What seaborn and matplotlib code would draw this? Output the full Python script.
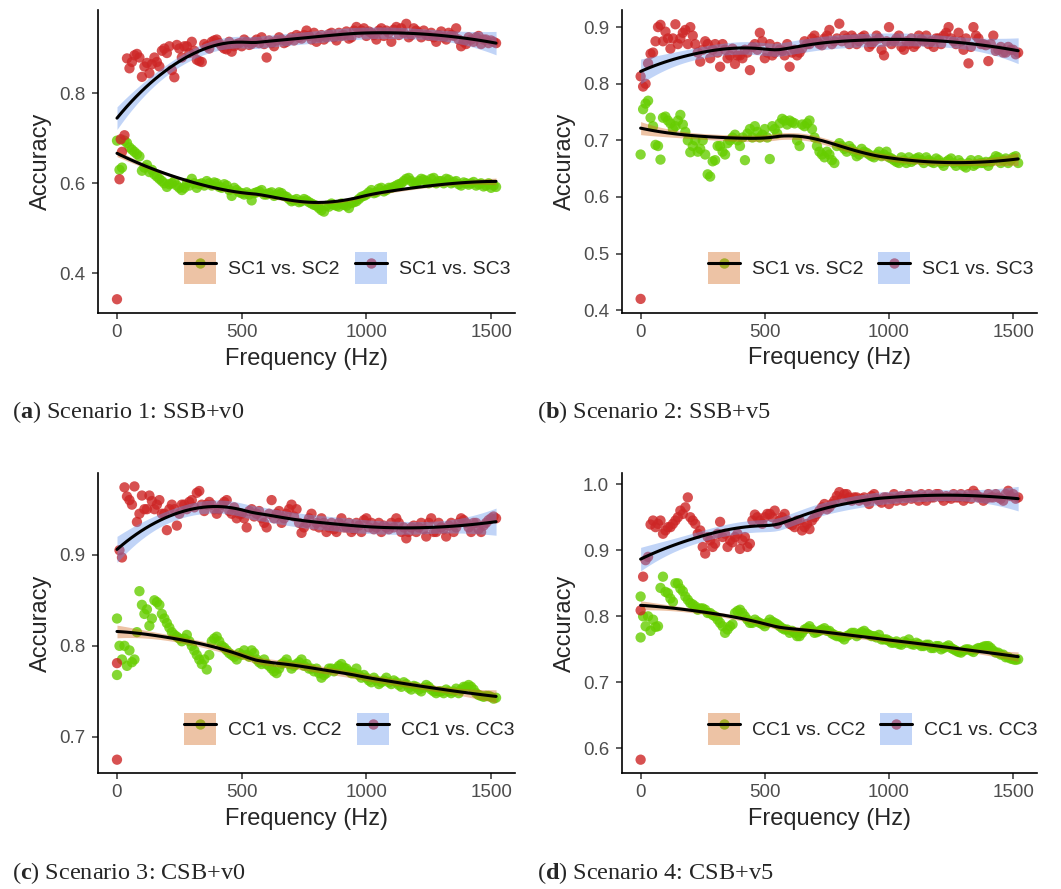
import numpy as np
import pandas as pd
import matplotlib
matplotlib.use('Agg')
import matplotlib.pyplot as plt
import seaborn as sns
from matplotlib.patches import Patch
from matplotlib.lines import Line2D
from matplotlib.legend_handler import HandlerTuple

# frequency grids (Hz): even steps and the points in between
freq = [0, 20, 40, 60, 80, 100, 120, 140, 160, 180,
        200, 220, 240, 260, 280, 300, 320, 340, 360, 380,
        400, 420, 440, 460, 480, 500, 520, 540, 560, 580,
        600, 620, 640, 660, 680, 700, 720, 740, 760, 780,
        800, 820, 840, 860, 880, 900, 920, 940, 960, 980,
        1000, 1020, 1040, 1060, 1080, 1100, 1120, 1140, 1160, 1180,
        1200, 1220, 1240, 1260, 1280, 1300, 1320, 1340, 1360, 1380,
        1400, 1420, 1440, 1460, 1480, 1500, 1520]
freq_mid = [10, 30, 50, 70, 90, 110, 130, 150, 170, 190,
            210, 230, 250, 270, 290, 310, 330, 350, 370, 390,
            410, 430, 450, 470, 490, 510, 530, 550, 570, 590,
            610, 630, 650, 670, 690, 710, 730, 750, 770, 790,
            810, 830, 850, 870, 890, 910, 930, 950, 970, 990,
            1010, 1030, 1050, 1070, 1090, 1110, 1130, 1150, 1170, 1190,
            1210, 1230, 1250, 1270, 1290, 1310, 1330, 1350, 1370, 1390,
            1410, 1430, 1450, 1470, 1490, 1510]

# Scenario 1: SSB+v0
sc2_a = [0.695, 0.635, 0.690, 0.675, 0.665, 0.628, 0.641, 0.630, 0.615, 0.605,
         0.592, 0.600, 0.595, 0.585, 0.600, 0.610, 0.590, 0.600, 0.605, 0.595,
         0.600, 0.590, 0.595, 0.572, 0.585, 0.578, 0.580, 0.562, 0.580, 0.585,
         0.575, 0.580, 0.575, 0.578, 0.570, 0.560, 0.565, 0.560, 0.562, 0.555,
         0.550, 0.540, 0.550, 0.555, 0.550, 0.555, 0.550, 0.556, 0.560, 0.570,
         0.575, 0.585, 0.580, 0.590, 0.585, 0.590, 0.595, 0.600, 0.610, 0.605,
         0.600, 0.610, 0.605, 0.610, 0.600, 0.605, 0.610, 0.600, 0.605, 0.595,
         0.600, 0.600, 0.595, 0.600, 0.595, 0.590, 0.592]
sc2_a_mid = [0.630, 0.695, 0.680, 0.670, 0.660, 0.635, 0.625, 0.620, 0.610, 0.600,
             0.598, 0.605, 0.590, 0.590, 0.595, 0.600, 0.598, 0.595, 0.600, 0.602,
             0.592, 0.598, 0.585, 0.590, 0.580, 0.575, 0.575, 0.578, 0.582, 0.575,
             0.578, 0.572, 0.580, 0.572, 0.565, 0.562, 0.558, 0.565, 0.558, 0.552,
             0.545, 0.537, 0.548, 0.552, 0.548, 0.552, 0.545, 0.558, 0.565, 0.572,
             0.580, 0.578, 0.588, 0.582, 0.590, 0.592, 0.598, 0.605, 0.612, 0.600,
             0.605, 0.608, 0.600, 0.612, 0.605, 0.600, 0.608, 0.603, 0.598, 0.602,
             0.597, 0.603, 0.598, 0.593, 0.600, 0.595]
sc3_a = [0.342, 0.670, 0.878, 0.870, 0.888, 0.837, 0.868, 0.865, 0.870, 0.895,
         0.890, 0.852, 0.908, 0.880, 0.905, 0.915, 0.875, 0.870, 0.905, 0.915,
         0.920, 0.905, 0.898, 0.893, 0.910, 0.905, 0.915, 0.910, 0.920, 0.925,
         0.880, 0.912, 0.918, 0.920, 0.915, 0.925, 0.930, 0.922, 0.940, 0.920,
         0.915, 0.930, 0.925, 0.935, 0.918, 0.928, 0.938, 0.925, 0.948, 0.940,
         0.928, 0.935, 0.920, 0.945, 0.940, 0.915, 0.948, 0.945, 0.955, 0.930,
         0.940, 0.925, 0.930, 0.935, 0.915, 0.938, 0.920, 0.930, 0.945, 0.905,
         0.910, 0.920, 0.925, 0.910, 0.920, 0.918, 0.912]
sc3_a_mid = [0.609, 0.707, 0.856, 0.885, 0.880, 0.860, 0.845, 0.880, 0.860, 0.900,
             0.905, 0.836, 0.900, 0.905, 0.890, 0.895, 0.872, 0.910, 0.900, 0.918,
             0.912, 0.900, 0.915, 0.905, 0.912, 0.920, 0.908, 0.915, 0.912, 0.910,
             0.918, 0.905, 0.925, 0.912, 0.920, 0.918, 0.925, 0.930, 0.928, 0.935,
             0.925, 0.920, 0.932, 0.925, 0.935, 0.930, 0.922, 0.940, 0.935, 0.945,
             0.938, 0.930, 0.940, 0.928, 0.935, 0.942, 0.930, 0.935, 0.925, 0.945,
             0.935, 0.940, 0.928, 0.925, 0.930, 0.925, 0.935, 0.928, 0.920, 0.915,
             0.925, 0.915, 0.928, 0.920, 0.912, 0.915]
sc2_a_xf, sc2_a_xa = [], []
sc3_a_xf, sc3_a_xa = [15], [0.698]

# Scenario 2: SSB+v5
sc2_b = [0.675, 0.765, 0.740, 0.692, 0.666, 0.742, 0.730, 0.725, 0.745, 0.715,
         0.679, 0.700, 0.685, 0.675, 0.636, 0.665, 0.690, 0.675, 0.700, 0.710,
         0.690, 0.665, 0.720, 0.725, 0.705, 0.720, 0.667, 0.720, 0.730, 0.735,
         0.735, 0.730, 0.690, 0.725, 0.735, 0.705, 0.680, 0.670, 0.675, 0.660,
         0.695, 0.685, 0.690, 0.680, 0.675, 0.680, 0.675, 0.670, 0.680, 0.675,
         0.670, 0.665, 0.660, 0.665, 0.670, 0.665, 0.670, 0.660, 0.665, 0.660,
         0.665, 0.655, 0.665, 0.660, 0.665, 0.655, 0.660, 0.655, 0.665, 0.660,
         0.655, 0.665, 0.670, 0.665, 0.660, 0.670, 0.660]
sc2_b_mid = [0.755, 0.770, 0.725, 0.690, 0.740, 0.735, 0.720, 0.735, 0.728, 0.700,
             0.690, 0.680, 0.700, 0.640, 0.663, 0.690, 0.680, 0.695, 0.705, 0.700,
             0.705, 0.712, 0.705, 0.715, 0.710, 0.705, 0.725, 0.712, 0.738, 0.728,
             0.732, 0.700, 0.728, 0.730, 0.720, 0.690, 0.675, 0.680, 0.665, 0.690,
             0.690, 0.680, 0.685, 0.672, 0.685, 0.678, 0.672, 0.675, 0.672, 0.680,
             0.668, 0.662, 0.670, 0.660, 0.662, 0.668, 0.665, 0.670, 0.662, 0.668,
             0.660, 0.662, 0.668, 0.655, 0.660, 0.652, 0.665, 0.658, 0.660, 0.662,
             0.662, 0.672, 0.660, 0.668, 0.665, 0.672]
sc3_b = [0.420, 0.800, 0.853, 0.875, 0.904, 0.892, 0.862, 0.905, 0.880, 0.895,
         0.900, 0.870, 0.839, 0.875, 0.845, 0.870, 0.830, 0.860, 0.850, 0.835,
         0.850, 0.860, 0.824, 0.870, 0.890, 0.845, 0.870, 0.855, 0.860, 0.850,
         0.830, 0.860, 0.855, 0.875, 0.870, 0.885, 0.870, 0.880, 0.895, 0.875,
         0.906, 0.885, 0.870, 0.880, 0.875, 0.885, 0.865, 0.875, 0.880, 0.850,
         0.900, 0.875, 0.885, 0.860, 0.870, 0.865, 0.885, 0.875, 0.870, 0.865,
         0.880, 0.885, 0.900, 0.875, 0.890, 0.860, 0.836, 0.900, 0.880, 0.870,
         0.840, 0.885, 0.860, 0.855, 0.865, 0.860, 0.855]
sc3_b_mid = [0.795, 0.836, 0.855, 0.900, 0.875, 0.880, 0.880, 0.870, 0.890, 0.870,
             0.885, 0.855, 0.860, 0.870, 0.860, 0.855, 0.870, 0.845, 0.862, 0.850,
             0.845, 0.855, 0.865, 0.860, 0.875, 0.855, 0.850, 0.865, 0.858, 0.870,
             0.855, 0.850, 0.862, 0.870, 0.880, 0.875, 0.868, 0.885, 0.870, 0.880,
             0.875, 0.880, 0.885, 0.870, 0.882, 0.878, 0.870, 0.885, 0.860, 0.875,
             0.870, 0.880, 0.865, 0.875, 0.880, 0.870, 0.878, 0.885, 0.875, 0.880,
             0.870, 0.890, 0.880, 0.870, 0.875, 0.880, 0.865, 0.885, 0.870, 0.868,
             0.870, 0.858, 0.865, 0.855, 0.860, 0.852]
sc2_b_xf, sc2_b_xa = [], []
sc3_b_xf, sc3_b_xa = [0], [0.813]

# Scenario 3: CSB+v0
cc2_c = [0.768, 0.785, 0.778, 0.782, 0.815, 0.845, 0.840, 0.830, 0.848, 0.835,
         0.825, 0.815, 0.810, 0.805, 0.812, 0.800, 0.790, 0.780, 0.774, 0.805,
         0.810, 0.800, 0.795, 0.790, 0.785, 0.790, 0.790, 0.795, 0.785, 0.780,
         0.780, 0.775, 0.770, 0.780, 0.785, 0.775, 0.780, 0.785, 0.780, 0.775,
         0.775, 0.765, 0.770, 0.775, 0.775, 0.780, 0.775, 0.770, 0.775, 0.765,
         0.765, 0.760, 0.762, 0.760, 0.765, 0.758, 0.760, 0.755, 0.758, 0.752,
         0.755, 0.750, 0.757, 0.752, 0.748, 0.750, 0.752, 0.748, 0.753, 0.752,
         0.755, 0.755, 0.748, 0.745, 0.745, 0.744, 0.743]
cc2_c_mid = [0.800, 0.800, 0.795, 0.785, 0.860, 0.835, 0.822, 0.850, 0.845, 0.830,
             0.820, 0.812, 0.808, 0.808, 0.805, 0.795, 0.785, 0.785, 0.790, 0.808,
             0.805, 0.798, 0.792, 0.788, 0.792, 0.795, 0.788, 0.792, 0.782, 0.785,
             0.778, 0.772, 0.775, 0.782, 0.780, 0.778, 0.782, 0.778, 0.775, 0.772,
             0.770, 0.768, 0.775, 0.772, 0.778, 0.776, 0.772, 0.770, 0.768, 0.768,
             0.762, 0.765, 0.758, 0.762, 0.760, 0.762, 0.757, 0.760, 0.754, 0.756,
             0.752, 0.754, 0.755, 0.750, 0.750, 0.748, 0.750, 0.750, 0.748, 0.755,
             0.757, 0.752, 0.746, 0.744, 0.745, 0.742]
cc3_c = [0.675, 0.897, 0.964, 0.955, 0.936, 0.965, 0.950, 0.959, 0.955, 0.945,
         0.927, 0.955, 0.932, 0.955, 0.950, 0.960, 0.968, 0.955, 0.955, 0.955,
         0.945, 0.955, 0.960, 0.945, 0.940, 0.945, 0.930, 0.950, 0.945, 0.940,
         0.930, 0.960, 0.945, 0.935, 0.945, 0.955, 0.950, 0.924, 0.935, 0.945,
         0.935, 0.940, 0.925, 0.935, 0.925, 0.940, 0.930, 0.925, 0.935, 0.925,
         0.940, 0.935, 0.930, 0.925, 0.930, 0.935, 0.940, 0.925, 0.918, 0.930,
         0.925, 0.935, 0.920, 0.940, 0.925, 0.930, 0.920, 0.935, 0.930, 0.940,
         0.935, 0.925, 0.935, 0.925, 0.935, 0.940, 0.940]
cc3_c_mid = [0.905, 0.974, 0.960, 0.975, 0.945, 0.950, 0.965, 0.950, 0.960, 0.945,
             0.950, 0.950, 0.945, 0.955, 0.958, 0.952, 0.970, 0.948, 0.958, 0.950,
             0.950, 0.958, 0.948, 0.952, 0.945, 0.940, 0.948, 0.942, 0.948, 0.935,
             0.945, 0.940, 0.948, 0.940, 0.950, 0.942, 0.935, 0.930, 0.940, 0.932,
             0.930, 0.935, 0.930, 0.928, 0.935, 0.930, 0.935, 0.928, 0.932, 0.938,
             0.930, 0.928, 0.935, 0.932, 0.928, 0.930, 0.935, 0.930, 0.925, 0.932,
             0.930, 0.928, 0.935, 0.925, 0.935, 0.928, 0.932, 0.925, 0.935, 0.938,
             0.930, 0.935, 0.928, 0.932, 0.938, 0.942]
cc2_c_xf, cc2_c_xa = [0], [0.830]
cc3_c_xf, cc3_c_xa = [0], [0.781]

# Scenario 4: CSB+v5
cc2_d = [0.768, 0.785, 0.778, 0.784, 0.843, 0.837, 0.827, 0.850, 0.842, 0.830,
         0.820, 0.815, 0.812, 0.810, 0.805, 0.800, 0.790, 0.775, 0.785, 0.805,
         0.810, 0.800, 0.790, 0.795, 0.790, 0.785, 0.795, 0.790, 0.785, 0.780,
         0.775, 0.775, 0.770, 0.780, 0.785, 0.775, 0.778, 0.782, 0.778, 0.772,
         0.770, 0.765, 0.772, 0.775, 0.773, 0.778, 0.772, 0.770, 0.772, 0.765,
         0.763, 0.760, 0.758, 0.762, 0.765, 0.757, 0.758, 0.755, 0.757, 0.752,
         0.755, 0.752, 0.756, 0.750, 0.746, 0.748, 0.750, 0.746, 0.752, 0.754,
         0.755, 0.748, 0.745, 0.742, 0.738, 0.735, 0.735]
cc2_d_mid = [0.800, 0.800, 0.795, 0.785, 0.860, 0.835, 0.822, 0.850, 0.838, 0.825,
             0.818, 0.810, 0.812, 0.805, 0.802, 0.795, 0.785, 0.780, 0.788, 0.808,
             0.805, 0.795, 0.790, 0.792, 0.788, 0.790, 0.792, 0.788, 0.782, 0.780,
             0.778, 0.770, 0.775, 0.782, 0.780, 0.776, 0.780, 0.778, 0.774, 0.770,
             0.768, 0.770, 0.775, 0.770, 0.776, 0.774, 0.770, 0.768, 0.765, 0.765,
             0.760, 0.762, 0.757, 0.760, 0.758, 0.760, 0.755, 0.757, 0.752, 0.755,
             0.750, 0.754, 0.752, 0.748, 0.745, 0.750, 0.748, 0.750, 0.752, 0.755,
             0.752, 0.745, 0.742, 0.738, 0.736, 0.734]
cc3_d = [0.583, 0.885, 0.939, 0.935, 0.945, 0.930, 0.935, 0.945, 0.960, 0.965,
         0.950, 0.940, 0.930, 0.895, 0.915, 0.910, 0.943, 0.925, 0.915, 0.920,
         0.902, 0.920, 0.910, 0.954, 0.945, 0.950, 0.955, 0.960, 0.945, 0.955,
         0.940, 0.935, 0.945, 0.935, 0.932, 0.950, 0.960, 0.970, 0.965, 0.975,
         0.988, 0.985, 0.980, 0.980, 0.975, 0.980, 0.970, 0.985, 0.975, 0.980,
         0.970, 0.985, 0.980, 0.975, 0.985, 0.980, 0.975, 0.980, 0.985, 0.980,
         0.985, 0.975, 0.980, 0.985, 0.980, 0.975, 0.985, 0.990, 0.980, 0.975,
         0.985, 0.980, 0.980, 0.975, 0.990, 0.985, 0.980]
cc3_d_mid = [0.860, 0.890, 0.945, 0.940, 0.925, 0.935, 0.940, 0.950, 0.955, 0.980,
             0.945, 0.925, 0.905, 0.920, 0.905, 0.925, 0.920, 0.905, 0.912, 0.925,
             0.915, 0.905, 0.945, 0.950, 0.940, 0.955, 0.950, 0.940, 0.950, 0.945,
             0.938, 0.945, 0.930, 0.940, 0.945, 0.955, 0.965, 0.962, 0.970, 0.982,
             0.978, 0.985, 0.975, 0.980, 0.978, 0.975, 0.982, 0.978, 0.972, 0.980,
             0.978, 0.975, 0.982, 0.980, 0.978, 0.982, 0.985, 0.975, 0.980, 0.985,
             0.980, 0.982, 0.978, 0.980, 0.985, 0.980, 0.978, 0.985, 0.980, 0.978,
             0.980, 0.985, 0.978, 0.985, 0.982, 0.978]
cc2_d_xf, cc2_d_xa = [0], [0.830]
cc3_d_xf, cc3_d_xa = [0], [0.809]

x_ticks = [0, 500, 1000, 1500]
y_ticks_a = [0.4, 0.6, 0.8]
y_ticks_b = [0.4, 0.5, 0.6, 0.7, 0.8, 0.9]
y_ticks_c = [0.7, 0.8, 0.9]
y_ticks_d = [0.6, 0.7, 0.8, 0.9, 1.0]

captions = [r'($\mathbf{a}$) Scenario 1: SSB+v0', r'($\mathbf{b}$) Scenario 2: SSB+v5',
            r'($\mathbf{c}$) Scenario 3: CSB+v0', r'($\mathbf{d}$) Scenario 4: CSB+v5']

point_colors = ['#66CD00', '#CD2626']
fill_colors = ['#D2691E', '#6495ED']


def loess(x, y, grid, span=0.75):
    # local quadratic fit with tricube weights, like R's loess defaults
    x = np.asarray(x, float)
    y = np.asarray(y, float)
    n = len(x)
    q = int(np.floor(n * span))

    def rows(pts):
        L = np.zeros((len(pts), n))
        for i, x0 in enumerate(pts):
            d = np.abs(x - x0)
            h = np.sort(d)[q - 1]
            w = np.clip(1 - (d / h) ** 3, 0, None) ** 3
            u = (x - x0) / h
            X = np.column_stack([np.ones(n), u, u ** 2])
            XtW = X.T * w
            L[i] = np.linalg.solve(XtW @ X, XtW)[0]
        return L

    Ld = rows(x)
    res = y - Ld @ y
    M = np.eye(n) - Ld
    s = np.sqrt(np.sum(res ** 2) / np.trace(M.T @ M))
    Lg = rows(grid)
    return Lg @ y, s * np.sqrt(np.sum(Lg ** 2, axis=1))


sns.set_style('ticks')
plt.rcParams['font.family'] = ['Liberation Sans', 'DejaVu Sans']
plt.rcParams['mathtext.fontset'] = 'custom'
plt.rcParams['mathtext.rm'] = 'Liberation Serif'
plt.rcParams['mathtext.bf'] = 'Liberation Serif:bold'

fig = plt.figure(figsize=(10.61, 8.89), dpi=100)

panels = [
    ([0.0924, 0.6479, 0.3930, 0.3408], ['SC1 vs. SC2', 'SC1 vs. SC3'],
     [(sc2_a, sc2_a_mid, sc2_a_xf, sc2_a_xa), (sc3_a, sc3_a_mid, sc3_a_xf, sc3_a_xa)], y_ticks_a),
    ([0.5860, 0.6483, 0.3914, 0.3405], ['SC1 vs. SC2', 'SC1 vs. SC3'],
     [(sc2_b, sc2_b_mid, sc2_b_xf, sc2_b_xa), (sc3_b, sc3_b_mid, sc3_b_xf, sc3_b_xa)], y_ticks_b),
    ([0.0924, 0.1301, 0.3930, 0.3381], ['CC1 vs. CC2', 'CC1 vs. CC3'],
     [(cc2_c, cc2_c_mid, cc2_c_xf, cc2_c_xa), (cc3_c, cc3_c_mid, cc3_c_xf, cc3_c_xa)], y_ticks_c),
    ([0.5860, 0.1301, 0.3914, 0.3381], ['CC1 vs. CC2', 'CC1 vs. CC3'],
     [(cc2_d, cc2_d_mid, cc2_d_xf, cc2_d_xa), (cc3_d, cc3_d_mid, cc3_d_xf, cc3_d_xa)], y_ticks_d),
]
cap_pos = [(12, 412), (537, 412), (12, 873), (537, 873)]

for k, (pos, names, series, yt) in enumerate(panels):
    ax = fig.add_axes(pos)
    frames = []
    for name, (acc, mid, xf, xa) in zip(names, series):
        frames.append(pd.DataFrame({'freq': freq + freq_mid + xf,
                                    'acc': acc + mid + xa, 'pair': name}))
    df = pd.concat(frames, ignore_index=True)

    sns.scatterplot(data=df, x='freq', y='acc', hue='pair', hue_order=names,
                    palette=dict(zip(names, point_colors)), s=55, alpha=0.8,
                    edgecolor='none', legend=False, ax=ax, zorder=1)

    handles = []
    for name, pc, fc in zip(names, point_colors, fill_colors):
        sub = df[df['pair'] == name]
        grid = np.linspace(sub['freq'].min(), sub['freq'].max(), 80)
        fit, se = loess(sub['freq'], sub['acc'], grid)
        ax.fill_between(grid, fit - 1.96 * se, fit + 1.96 * se, color=fc,
                        alpha=0.4, linewidth=0, zorder=2)
        ax.plot(grid, fit, color='black', lw=2.2, zorder=3)
        handles.append((Line2D([], [], marker='o', ls='none', ms=7.5, mfc=pc,
                               mec='none', alpha=0.8),
                        Patch(facecolor=fc, alpha=0.4, edgecolor='none'),
                        Line2D([], [], color='black', lw=2.2)))

    ax.legend(handles, names, handler_map={tuple: HandlerTuple(ndivide=1, pad=0)},
              ncol=2, frameon=False, fontsize=14, loc='lower left',
              bbox_to_anchor=(0.207, 0.095), borderaxespad=0, borderpad=0,
              handlelength=1.65, handleheight=2.15, handletextpad=0.62,
              columnspacing=0.77)

    ax.set_xticks(x_ticks)
    ax.set_yticks(yt)
    ax.set_yticklabels([f'{v:.1f}' for v in yt])
    ax.set_xlabel('Frequency (Hz)', fontsize=17)
    ax.set_ylabel('Accuracy', fontsize=17)
    ax.xaxis.set_label_coords(0.5, -0.115)
    ax.yaxis.set_label_coords(-0.11, 0.5)
    ax.tick_params(labelsize=13.5, labelcolor='#4D4D4D', color='#333333',
                   length=4, width=1.1)
    ax.tick_params(axis='y', pad=5)
    ax.tick_params(axis='x', pad=4)
    for sp in ['left', 'bottom']:
        ax.spines[sp].set_linewidth(1.2)
        ax.spines[sp].set_color('black')
    sns.despine(ax=ax)

    cx, cy = cap_pos[k]
    fig.text(cx / 1061, 1 - cy / 889, captions[k], fontsize=17.5,
             family='Liberation Serif', va='center', ha='left')

fig.savefig('out.png', dpi=100)
